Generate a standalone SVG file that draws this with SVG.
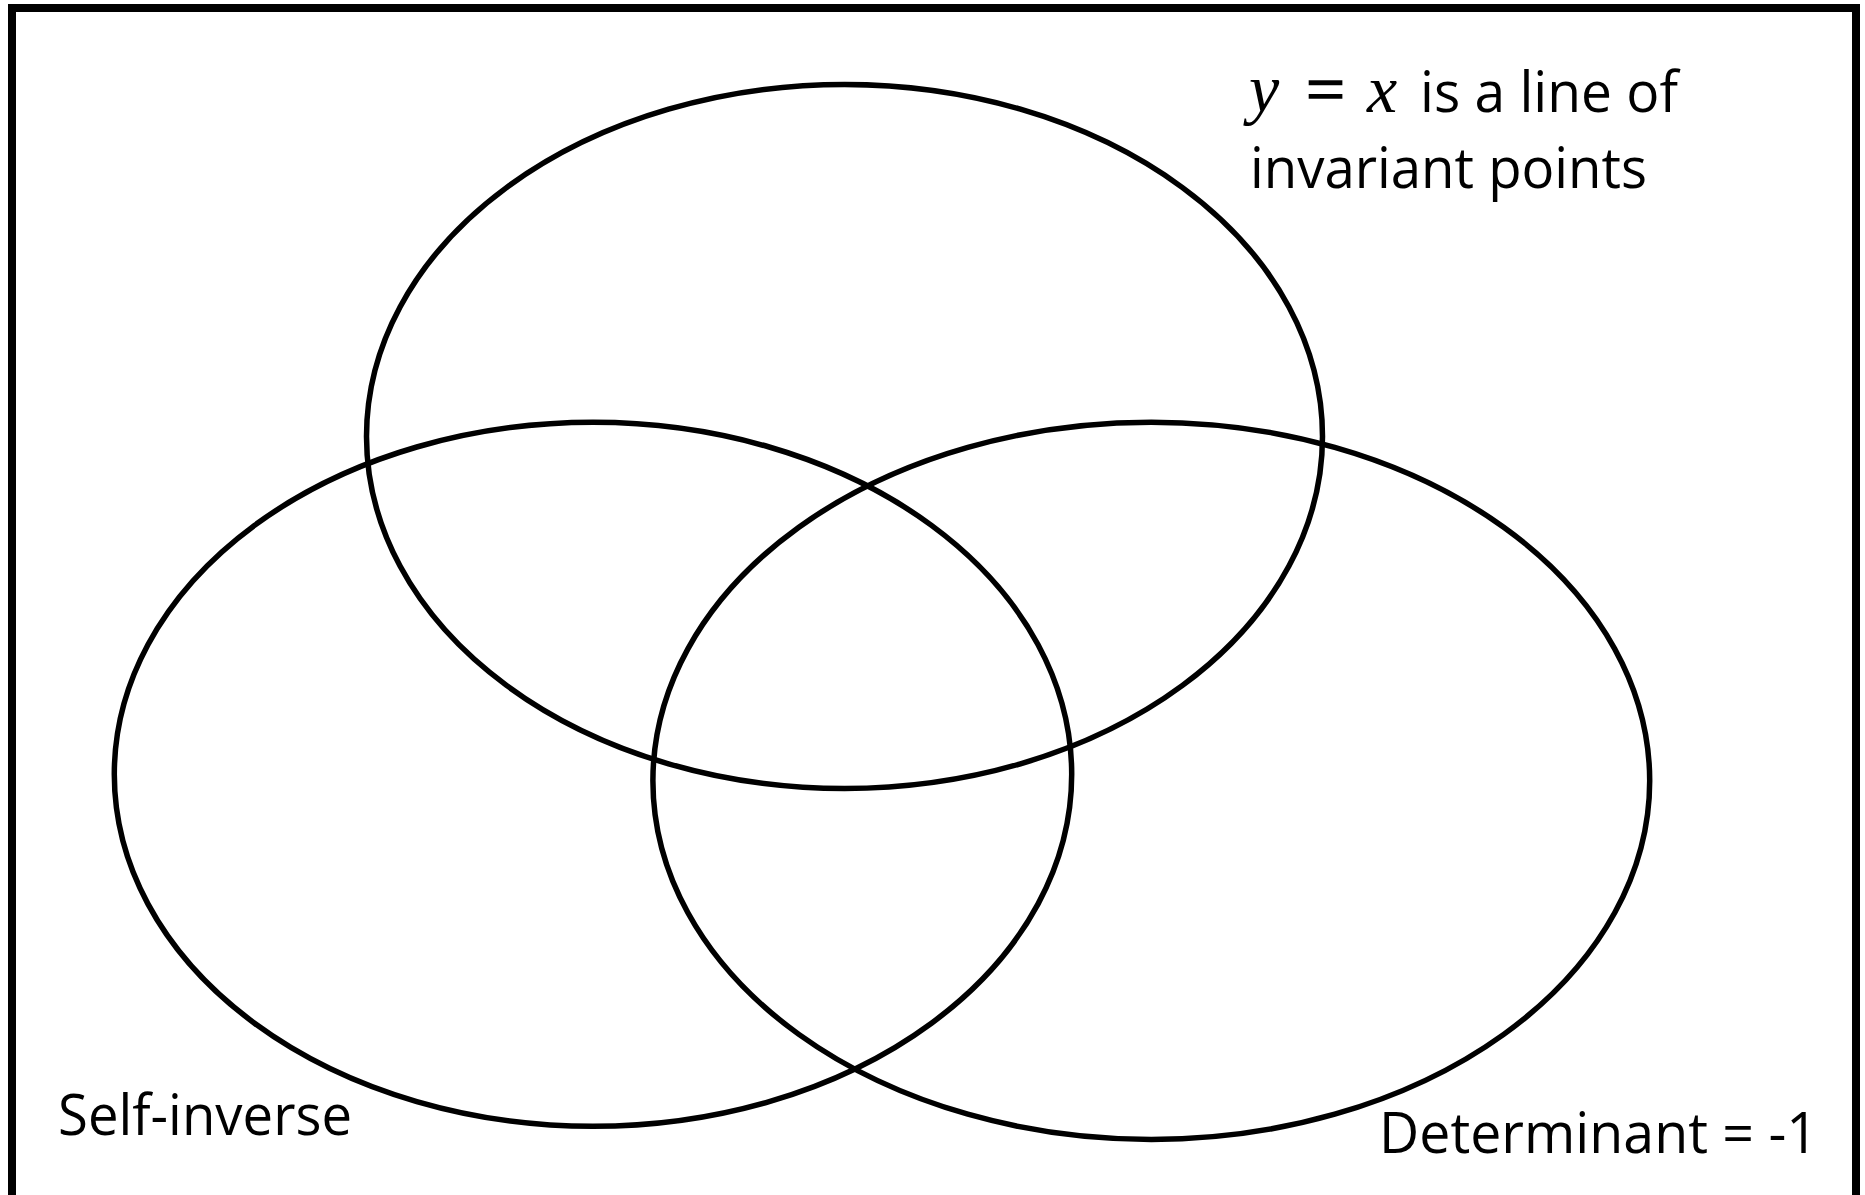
<svg xmlns="http://www.w3.org/2000/svg" width="1865" height="1195" viewBox="0 0 1865 1195">
<style>
.set{fill:none;stroke:#000;stroke-width:5.5}
.lbl{font-family:"Open Sans","Noto Sans","Liberation Sans",sans-serif;font-size:57px;fill:#000}
.math{font-family:"Liberation Serif","DejaVu Serif",serif;font-size:68px;fill:#000}
</style>
<rect x="0" y="0" width="1865" height="1195" fill="#fff"/>
<rect id="frame" x="12" y="8" width="1844" height="1200" fill="none" stroke="#000" stroke-width="8"/>
<g id="set-invariant">
<ellipse class="set" cx="844.5" cy="436.5" rx="478" ry="352"/>
<text class="math" x="1249" y="112" font-style="italic">y</text>
<text class="math" x="1306" y="112" textLength="39" lengthAdjust="spacingAndGlyphs" stroke="#000" stroke-width="1.5">=</text>
<text class="math" x="1367" y="112" font-style="italic">x</text>
<text class="lbl" x="1420" y="112" textLength="258" lengthAdjust="spacingAndGlyphs">is a line of</text>
<text class="lbl" x="1250" y="188" textLength="397" lengthAdjust="spacingAndGlyphs">invariant points</text>
</g>
<g id="set-selfinverse">
<ellipse class="set" cx="593" cy="774.3" rx="478.7" ry="352"/>
<text class="lbl" x="58" y="1135" textLength="294" lengthAdjust="spacingAndGlyphs">Self-inverse</text>
</g>
<g id="set-determinant">
<ellipse class="set" cx="1151.3" cy="780.8" rx="498.4" ry="358.6"/>
<text class="lbl" x="1379" y="1153" textLength="439" lengthAdjust="spacingAndGlyphs">Determinant = -1</text>
</g>
<g id="connectors"/>
</svg>
